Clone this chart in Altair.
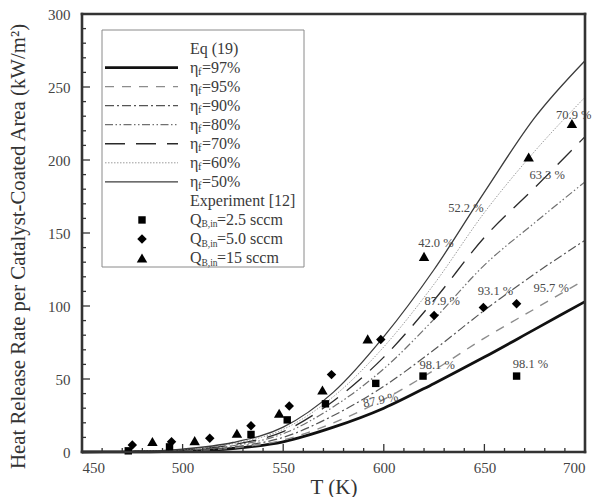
import altair as alt
import pandas as pd

# ---- Eq. (19): heat release rate per catalyst-coated area (kW/m^2) vs T (K)
T_MODEL = [450, 475, 500, 525, 550, 575, 600, 625, 650, 675, 700]
ETA_LABELS = ["97%", "95%", "90%", "80%", "70%", "60%", "50%"]
Q_ETA_97 = [0, 0.15, 0.7, 2.4, 7, 17, 30, 47, 65, 84, 103]
Q_ETA_95 = [0, 0.17, 0.8, 2.8, 8.2, 20, 36, 56, 78, 98, 118]
Q_ETA_90 = [0, 0.2, 1.0, 3.4, 10, 25, 45, 70, 97, 122, 145]
Q_ETA_80 = [0, 0.25, 1.3, 4.3, 12.5, 31, 57, 91, 128, 157, 185]
Q_ETA_70 = [0, 0.3, 1.5, 5.0, 14, 35, 65, 104, 147, 181, 216]
Q_ETA_60 = [0, 0.35, 1.7, 5.7, 15.5, 38, 72, 115, 164, 206, 243]
Q_ETA_50 = [0, 0.4, 2.0, 6.5, 17, 41, 79, 125, 178, 229, 268]
MODEL_SERIES = [Q_ETA_97, Q_ETA_95, Q_ETA_90, Q_ETA_80, Q_ETA_70, Q_ETA_60, Q_ETA_50]

# ---- Experiment [12]
FLOW_LABELS = ["2.5 sccm", "5.0 sccm", "15 sccm"]
T_EXP_25 = [473, 493.5, 534, 552, 571, 596, 619.5, 666]
Q_EXP_25 = [0.8, 3.5, 12, 22, 33, 47, 52, 52]
T_EXP_50 = [475, 494.5, 513.5, 534, 553, 574, 598.5, 625, 649.5, 666]
Q_EXP_50 = [4.8, 7, 9.4, 18, 31.5, 53, 77, 93.5, 99, 101.5]
T_EXP_15 = [485, 506, 527, 548, 569.5, 592, 620, 672, 693.5]
Q_EXP_15 = [7.2, 7.8, 12.8, 26.5, 42.5, 77.5, 134, 202, 225]

# ---- measured fuel conversion printed next to selected points
NOTE_TEXT = ["42.0 %", "52.2 %", "70.9 %", "63.3 %", "87.9 %",
             "93.1 %", "95.7 %", "98.1 %", "98.1 %", "87.9 %"]
NOTE_T = [625.9, 640.8, 694.4, 681.2, 629, 655.5, 683.2, 626.5, 672.9, 598.4]
NOTE_Q = [143, 167, 231, 190, 103.6, 110.5, 112, 59.6, 60.3, 35.6]
NOTE_ANGLE = [0, 0, 0, 0, 0, 0, 0, 0, 0, 348]

# ---- axis frame and tick positions (data units)
T_MIN, T_MAX, Q_MIN, Q_MAX = 450, 700, 0, 300
X_TICK_MAJOR = [450, 500, 550, 600, 650, 700]
X_TICK_MINOR = [t for t in range(450, 701, 10) if t % 50]
Y_TICK_MAJOR = [0, 50, 100, 150, 200, 250, 300]
Y_TICK_MINOR = [v for v in range(0, 301, 10) if v % 50]

# ---- styling
FONT = "'Liberation Serif', 'Times New Roman', Times, serif"
W, H = 503, 438
INK = "#333333"
PX_T = (T_MAX - T_MIN) / W   # data units per pixel along x
PX_Q = (Q_MAX - Q_MIN) / H   # data units per pixel along y

CURVE_STYLES = {
    "97%": {"color": "#111111", "strokeWidth": 2.8},
    "95%": {"color": "#8c8c8c", "strokeWidth": 1.4, "strokeDash": [9, 8]},
    "90%": {"color": "#555555", "strokeWidth": 1.2, "strokeDash": [9, 3, 2, 3]},
    "80%": {"color": "#707070", "strokeWidth": 1.2, "strokeDash": [8, 2.5, 1.5, 2.5, 1.5, 2.5]},
    "70%": {"color": "#2a2a2a", "strokeWidth": 1.3, "strokeDash": [20, 11]},
    "60%": {"color": "#9c9c9c", "strokeWidth": 1.0, "strokeDash": [1.5, 1.5]},
    "50%": {"color": "#3c3c3c", "strokeWidth": 1.3},
}
MARKERS = {
    "2.5 sccm": {"shape": "square", "size": 55},
    "5.0 sccm": {"shape": "diamond", "size": 90},
    "15 sccm": {"shape": "triangle-up", "size": 110},
}

x_scale = alt.Scale(domain=[T_MIN, T_MAX], nice=False, zero=False)
y_scale = alt.Scale(domain=[Q_MIN, Q_MAX], nice=False)

x_axis = alt.Axis(
    values=X_TICK_MAJOR, format="d", ticks=False, tickSize=0, domain=False, grid=False,
    labelFont=FONT, labelFontSize=15, labelColor="#444444", labelPadding=8,
    title="T  (K)", titleFont=FONT, titleFontSize=21, titleFontWeight="normal",
    titleColor=INK, titleY=41, titleBaseline="alphabetic",
)
y_axis = alt.Axis(
    values=Y_TICK_MAJOR, format="d", ticks=False, tickSize=0, domain=False, grid=False,
    labelFont=FONT, labelFontSize=15, labelColor="#444444", labelPadding=12,
    title="Heat Release Rate per Catalyst-Coated Area (kW/m²)",
    titleFont=FONT, titleFontSize=20.8, titleFontWeight="normal", titleColor=INK,
    titleX=-64, titleY=232, titleAngle=270, titleAlign="center", titleBaseline="middle",
)


def X(field):
    return alt.X(f"{field}:Q", scale=x_scale, axis=x_axis)


def Y(field):
    return alt.Y(f"{field}:Q", scale=y_scale, axis=y_axis)


layers = []

# model curves
for label, series in zip(ETA_LABELS, MODEL_SERIES):
    df = pd.DataFrame({"T": T_MODEL, "q": series})
    layers.append(
        alt.Chart(df).mark_line(interpolate="monotone", **CURVE_STYLES[label])
        .encode(x=X("T"), y=Y("q"))
    )

# experimental points
for label, ts, qs in zip(FLOW_LABELS, [T_EXP_25, T_EXP_50, T_EXP_15],
                         [Q_EXP_25, Q_EXP_50, Q_EXP_15]):
    df = pd.DataFrame({"T": ts, "q": qs})
    layers.append(
        alt.Chart(df).mark_point(filled=True, color="black", opacity=1,
                                 strokeWidth=0, **MARKERS[label])
        .encode(x=X("T"), y=Y("q"))
    )

# conversion notes
notes = pd.DataFrame({"T": NOTE_T, "q": NOTE_Q, "txt": NOTE_TEXT, "ang": NOTE_ANGLE})
layers.append(
    alt.Chart(notes).mark_text(font=FONT, fontSize=12.5, color="#4a4a4a",
                               align="center", baseline="middle")
    .encode(x=X("T"), y=Y("q"), text="txt:N", angle=alt.Angle("ang:Q", scale=None))
)

# inward tick marks along the bottom and left edges
for ticks, px in [(X_TICK_MAJOR, 8), (X_TICK_MINOR, 4)]:
    df = pd.DataFrame({"T": ticks, "q0": Q_MIN, "q1": Q_MIN + px * PX_Q})
    layers.append(
        alt.Chart(df).mark_rule(color=INK, strokeWidth=1.3)
        .encode(x=X("T"), y=Y("q0"), y2="q1:Q")
    )
for ticks, px in [(Y_TICK_MAJOR, 8), (Y_TICK_MINOR, 4)]:
    df = pd.DataFrame({"q": ticks, "t0": T_MIN, "t1": T_MIN + px * PX_T})
    layers.append(
        alt.Chart(df).mark_rule(color=INK, strokeWidth=1.3)
        .encode(y=Y("q"), x=X("t0"), x2="t1:Q")
    )

# plot frame: bottom, top, left, right
frame = pd.DataFrame({
    "t0": [T_MIN, T_MIN, T_MIN, T_MAX], "t1": [T_MAX, T_MAX, T_MIN, T_MAX],
    "q0": [Q_MIN, Q_MAX, Q_MIN, Q_MIN], "q1": [Q_MIN, Q_MAX, Q_MAX, Q_MAX],
})
layers.append(
    alt.Chart(frame).mark_rule(color=INK, strokeWidth=2.6, strokeCap="square")
    .encode(x=X("t0"), x2="t1:Q", y=Y("q0"), y2="q1:Q")
)

# ---- key box
ONE = pd.DataFrame({"k": [0]})
KEY_X0, KEY_X1, KEY_Y0, KEY_Y1 = 20, 222, 16, 253
ROW0, ROW_STEP = 34.5, 19.05
SAMPLE_X0, SAMPLE_X1, MARK_X, TEXT_X = 23, 96, 60, 108
KEY_FONT = 16
KEY_COLOR = "#3a3a3a"


def key_text(txt, x, y, size=KEY_FONT):
    return alt.Chart(ONE).mark_text(
        font=FONT, fontSize=size, color=KEY_COLOR, align="left", baseline="middle"
    ).encode(x=alt.value(x), y=alt.value(y), text=alt.value(txt))


layers.append(
    alt.Chart(ONE).mark_rect(fill="white", stroke="#8a8a8a", strokeWidth=1)
    .encode(x=alt.value(KEY_X0), x2=alt.value(KEY_X1),
            y=alt.value(KEY_Y0), y2=alt.value(KEY_Y1))
)
layers.append(key_text("Eq (19)", TEXT_X, ROW0))
for i, label in enumerate(ETA_LABELS):
    ry = ROW0 + ROW_STEP * (i + 1)
    layers.append(
        alt.Chart(ONE).mark_rule(**CURVE_STYLES[label])
        .encode(x=alt.value(SAMPLE_X0), x2=alt.value(SAMPLE_X1), y=alt.value(ry))
    )
    layers.append(key_text("η", TEXT_X, ry))
    layers.append(key_text("f", TEXT_X + 8, ry + 4, 10.5))
    layers.append(key_text("=" + label, TEXT_X + 12, ry))

ry = ROW0 + ROW_STEP * 8
layers.append(key_text("Experiment [12]", TEXT_X, ry))
for j, label in enumerate(FLOW_LABELS):
    ry = ROW0 + ROW_STEP * (9 + j)
    layers.append(
        alt.Chart(ONE).mark_point(filled=True, color="black", opacity=1,
                                  strokeWidth=0, **MARKERS[label])
        .encode(x=alt.value(MARK_X), y=alt.value(ry))
    )
    layers.append(key_text("Q", TEXT_X, ry))
    layers.append(key_text("B,in", TEXT_X + 11.5, ry + 4.5, 9.5))
    layers.append(key_text("=" + label, TEXT_X + 27, ry))

chart = (
    alt.layer(*layers)
    .properties(
        width=W, height=H,
        autosize=alt.AutoSizeParams(type="none"),
        padding={"left": 82, "top": 14, "right": 13, "bottom": 45},
        background="white",
    )
    .configure_view(stroke=None)
)

chart.save("out.html", embed_options={"renderer": "svg", "actions": False})
